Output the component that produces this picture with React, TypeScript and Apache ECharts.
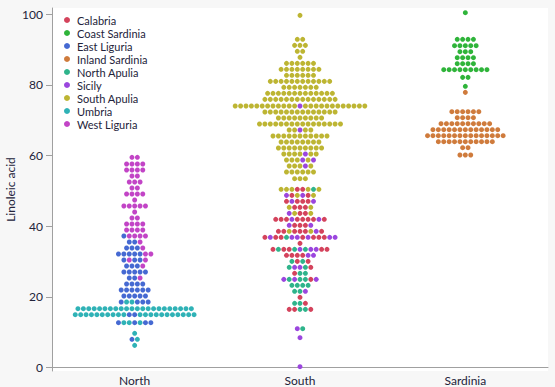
import React, { useEffect, useRef } from 'react';
import * as echarts from 'echarts';

// ---- data ----
const categories = ['North', 'South', 'Sardinia'];
const regionNames = [
  'Calabria', 'Coast Sardinia', 'East Liguria', 'Inland Sardinia', 'North Apulia',
  'Sicily', 'South Apulia', 'Umbria', 'West Liguria',
];
const regionCodes = ['C', 'K', 'E', 'I', 'N', 'Y', 'A', 'U', 'W'];
const yTickValues = [0, 20, 40, 60, 80, 100];

// rows: [linoleic acid value, region codes left-to-right (letter + optional repeat count)]
const northRows: [number, string][] = [
  [59.48, 'W2'], [57.59, 'W4'], [55.89, 'W4'], [54.2, 'W2'], [52.5, 'W3'],
  [50.81, 'W2'], [49.11, 'W4'], [47.41, 'W'], [45.72, 'W5'], [44.02, 'W'],
  [42.32, 'W2'], [40.63, 'W4'], [38.93, 'W4'], [37.23, 'EW4'], [35.54, 'E2W'],
  [33.84, 'E3W'], [32.15, 'E5W2'], [30.45, 'EWE2W'], [28.75, 'E3W'], [27.06, 'E5'],
  [25.36, 'E2W'], [23.66, 'E4'], [21.97, 'E6'], [20.27, 'E5'], [18.57, 'EU2E3'],
  [16.69, 'U22'], [14.99, 'U10E2U11'], [12.73, 'EU2EUE2'], [9.72, 'U'], [8.02, 'EU'],
  [6.32, 'U'],
];
const southRows: [number, string][] = [
  [99.62, 'A'], [92.84, 'A2'], [91.14, 'A3'], [89.45, 'A2'], [87.75, 'A'],
  [86.05, 'A6'], [84.36, 'A8'], [82.66, 'A6'], [80.96, 'A12'], [79.27, 'A7'],
  [77.57, 'A13'], [75.87, 'A14'], [73.99, 'A12YA12'], [72.29, 'A14'], [70.6, 'A9'],
  [68.9, 'A16'], [67.2, 'A2YA2'], [65.51, 'A11'], [63.81, 'A8'], [62.11, 'A9'],
  [60.42, 'A4YA2'], [58.72, 'A3YAY'], [57.03, 'A3YA'], [55.33, 'A6'], [53.44, 'A3'],
  [50.43, 'A3C2ANA'], [48.73, 'YCAYCA'], [47.04, 'CYC3Y'], [45.34, 'AC3A'], [43.64, 'YAC2A'],
  [41.95, 'C3YC4YC'], [40.25, 'YC3Y'], [38.56, 'C2AC3AYC'], [36.86, 'CYC2NY2CYC3Y2'], [35.16, 'C'],
  [33.47, 'CNC2NYNY2C2'], [31.77, 'C4Y2'], [30.07, 'NCNC'], [28.38, 'NY2NC'], [26.68, 'CN2'],
  [24.98, 'YNYN2CY'], [23.29, 'N4'], [21.59, 'N2Y'], [19.9, 'C'], [18.2, 'N2C'],
  [16.5, 'C2N2C'], [11.03, 'YN'], [8.49, 'Y'], [0.29, 'Y'],
];
const sardiniaRows: [number, string][] = [
  [100.38, 'K'], [92.84, 'K4'], [91.05, 'K5'], [89.35, 'K3'], [87.65, 'K4'],
  [85.96, 'K4'], [84.26, 'K9'], [82.09, 'K2'], [79.55, 'K'], [77.85, 'I'],
  [72.39, 'I6'], [70.69, 'I4'], [68.99, 'I10'], [67.3, 'I13'], [65.6, 'I15'],
  [63.9, 'I11'], [62.21, 'I2'], [60.14, 'I3'],
];
const groupRows = [northRows, southRows, sardiniaRows];

// ---- styles ----
const regionColors = [
  '#d4435c', '#2fb43a', '#4569d2', '#cf7b3c', '#2fb48b',
  '#9b46de', '#bdb533', '#2fb2b6', '#c244c6',
];
const DOT_SPACING = 5.4;
const DOT_SIZE = 5;
const FONT = 'Lato, "DejaVu Sans", sans-serif';
const TEXT = '#23233a';
const AXIS = '#a0a0a0';

function expand(code: string): string[] {
  const out: string[] = [];
  const re = /([A-Z])(\d*)/g;
  let m: RegExpExecArray | null;
  while ((m = re.exec(code))) {
    const n = m[2] ? parseInt(m[2], 10) : 1;
    for (let i = 0; i < n; i++) out.push(m[1]);
  }
  return out;
}

function buildSeriesData() {
  const data: any[][] = regionNames.map(() => []);
  groupRows.forEach((rows, gi) => {
    rows.forEach(([v, code]) => {
      const letters = expand(code);
      const n = letters.length;
      letters.forEach((letter, i) => {
        const r = regionCodes.indexOf(letter);
        data[r].push({
          value: [categories[gi], v],
          symbolOffset: [(i - (n - 1) / 2) * DOT_SPACING, 0],
        });
      });
    });
  });
  return data;
}

export default function App() {
  const ref = useRef<HTMLDivElement>(null);
  useEffect(() => {
    if (!ref.current) return;
    const chart = echarts.init(ref.current, null, { renderer: 'svg' });
    const seriesData = buildSeriesData();
    chart.setOption({
      animation: false,
      backgroundColor: '#f7f7f7',
      textStyle: { fontFamily: FONT },
      grid: {
        left: 52, right: 7, top: 8, bottom: 16,
        outerBoundsMode: 'none', containLabel: false,
        show: true, backgroundColor: '#ffffff', borderWidth: 0,
      },
      legend: {
        orient: 'vertical', left: 64, top: 13.5, padding: 0,
        itemWidth: 10, itemHeight: 6, itemGap: 0, icon: 'circle',
        selectedMode: false,
        textStyle: { fontSize: 11, lineHeight: 13, color: TEXT, fontFamily: FONT },
        data: regionNames,
      },
      xAxis: {
        type: 'category', data: categories, boundaryGap: true,
        axisLine: { lineStyle: { color: AXIS } },
        axisTick: { show: false },
        axisLabel: { color: TEXT, fontSize: 12, margin: 3, fontFamily: FONT },
      },
      yAxis: {
        type: 'value', min: -0.93, max: 101.7,
        name: 'Linoleic acid', nameLocation: 'middle', nameGap: 36,
        nameMoveOverlap: false,
        nameTextStyle: { fontSize: 12, color: TEXT, fontFamily: FONT },
        axisLine: { show: true, lineStyle: { color: AXIS } },
        axisTick: { show: true, length: 6, customValues: yTickValues, lineStyle: { color: AXIS } },
        axisLabel: { customValues: yTickValues, margin: 9, fontSize: 12, color: TEXT, fontFamily: FONT },
        splitLine: { show: false },
      },
      series: regionNames.map((name, r) => ({
        type: 'scatter', name, data: seriesData[r],
        symbol: 'circle', symbolSize: DOT_SIZE,
        itemStyle: { color: regionColors[r], opacity: 1 },
        emphasis: { disabled: true },
      })),
    });
    return () => chart.dispose();
  }, []);
  return <div ref={ref} style={{ position: 'fixed', left: 0, top: 0, width: 555, height: 387 }} />;
}
